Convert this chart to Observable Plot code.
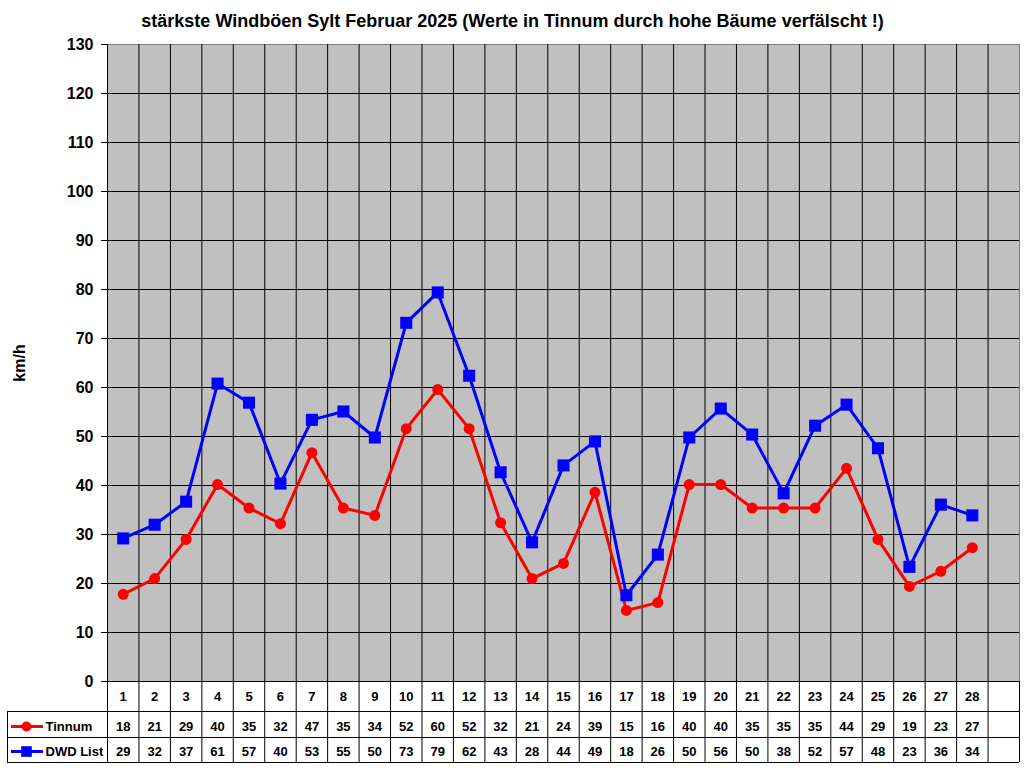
<!DOCTYPE html>
<html>
<head>
<meta charset="utf-8">
<script src="https://cdn.jsdelivr.net/npm/d3@7"></script>
<script src="https://cdn.jsdelivr.net/npm/@observablehq/plot@0.6"></script>
<style>
  html, body { margin: 0; padding: 0; background: #fff; }
  #chart svg { display: block; font-family: Arial, "Liberation Sans", sans-serif; }
</style>
</head>
<body>
<div id="chart"></div>
<script>
const title = "stärkste Windböen Sylt Februar 2025 (Werte in Tinnum durch hohe Bäume verfälscht !)";
const yLabel = "km/h";
const days = [1,2,3,4,5,6,7,8,9,10,11,12,13,14,15,16,17,18,19,20,21,22,23,24,25,26,27,28];
const seriesNames = ["Tinnum", "DWD List"];
const tinnum = [17.8,21.0,29.0,40.2,35.4,32.2,46.7,35.4,33.9,51.6,59.6,51.6,32.4,21.0,24.1,38.6,14.5,16.1,40.2,40.2,35.4,35.4,35.4,43.5,29.0,19.4,22.5,27.3];
const dwd = [29.2,32.0,36.7,60.8,56.9,40.4,53.4,55.1,49.8,73.2,79.4,62.4,42.7,28.4,44.1,49.0,17.6,25.9,49.8,55.7,50.4,38.4,52.2,56.5,47.6,23.4,36.1,33.9];
const tinnumTable = [18,21,29,40,35,32,47,35,34,52,60,52,32,21,24,39,15,16,40,40,35,35,35,44,29,19,23,27];
const dwdTable = [29,32,37,61,57,40,53,55,50,73,79,62,43,28,44,49,18,26,50,56,50,38,52,57,48,23,36,34];
const yTicks = [0,10,20,30,40,50,60,70,80,90,100,110,120,130];

const nCols = 29; // 28 days + one empty column
const boundaries = d3.range(0.5, nCols + 1, 1); // 0.5 .. 29.5
const innerBounds = boundaries.slice(1, -1);

const tData = days.map((d, i) => ({day: d, v: tinnum[i], label: tinnumTable[i]}));
const dData = days.map((d, i) => ({day: d, v: dwd[i], label: dwdTable[i]}));

const txt = {fontSize: 13, fontWeight: "bold", fill: "black", lineAnchor: "middle"};

const chart = Plot.plot({
  width: 1024,
  height: 768,
  marginLeft: 107,
  marginRight: 5,
  marginTop: 44,
  marginBottom: 87,
  x: {type: "linear", domain: [0.5, nCols + 0.5], axis: null},
  y: {domain: [0, 130]},
  marks: [
    Plot.frame({fill: "#C0C0C0", stroke: "#808080"}),
    // horizontal gridlines
    Plot.ruleY(yTicks.filter(t => t < 130), {stroke: "black", strokeWidth: 1}),
    // vertical gridlines extended into the data table
    Plot.ruleX(innerBounds, {stroke: "black", strokeWidth: 1, insetBottom: -81}),
    // left axis line extended through table
    Plot.ruleX([0.5], {stroke: "black", strokeWidth: 1, insetBottom: -81}),
    // right table edge
    Plot.ruleX([nCols + 0.5], {y1: 0, y2: 0, stroke: "black", insetBottom: -81}),
    // table left edge (legend column)
    Plot.ruleX([0.5], {y1: 0, y2: 0, stroke: "black", insetTop: 30, insetBottom: -81, dx: -100}),
    // table row lines
    Plot.ruleY([0], {stroke: "black", dy: 30, insetLeft: -100}),
    Plot.ruleY([0], {stroke: "black", dy: 56, insetLeft: -100}),
    Plot.ruleY([0], {stroke: "black", dy: 81, insetLeft: -100}),
    // y axis
    Plot.axisY({
      ticks: yTicks, tickSize: 6, tickPadding: 8, fontSize: 16, fontWeight: "bold",
      label: yLabel, labelAnchor: "center", labelArrow: "none", labelOffset: 94
    }),
    // series
    Plot.line(tData, {x: "day", y: "v", stroke: "#FF0000", strokeWidth: 3}),
    Plot.dot(tData, {x: "day", y: "v", fill: "#FF0000", r: 5.5, symbol: "circle"}),
    Plot.line(dData, {x: "day", y: "v", stroke: "#0000FF", strokeWidth: 3}),
    Plot.dot(dData, {x: "day", y: "v", fill: "#0000FF", r: 6.8, symbol: "square"}),
    // data table
    Plot.text(days, {x: d => d, text: d => d, frameAnchor: "bottom", dy: 15, ...txt}),
    Plot.text(tData, {x: "day", text: "label", frameAnchor: "bottom", dy: 45, ...txt}),
    Plot.text(dData, {x: "day", text: "label", frameAnchor: "bottom", dy: 70, ...txt}),
    // legend keys in table
    Plot.ruleY([0], {x1: 0.5, x2: 0.5, stroke: "#FF0000", strokeWidth: 3, dy: 45, insetLeft: -96, insetRight: 64}),
    Plot.dot([seriesNames[0]], {frameAnchor: "bottom-left", dx: -81, dy: 45, fill: "#FF0000", r: 5, symbol: "circle"}),
    Plot.text([seriesNames[0]], {frameAnchor: "bottom-left", dx: -62, dy: 45, textAnchor: "start", ...txt}),
    Plot.ruleY([0], {x1: 0.5, x2: 0.5, stroke: "#0000FF", strokeWidth: 3, dy: 70, insetLeft: -96, insetRight: 64}),
    Plot.dot([seriesNames[1]], {frameAnchor: "bottom-left", dx: -81, dy: 70, fill: "#0000FF", r: 6, symbol: "square"}),
    Plot.text([seriesNames[1]], {frameAnchor: "bottom-left", dx: -62, dy: 70, textAnchor: "start", ...txt}),
    // title
    Plot.text([title], {frameAnchor: "top", dx: -51, dy: -23, fontSize: 18, fontWeight: "bold", fill: "black", lineAnchor: "middle"})
  ]
});
document.getElementById("chart").append(chart);
</script>
</body>
</html>
